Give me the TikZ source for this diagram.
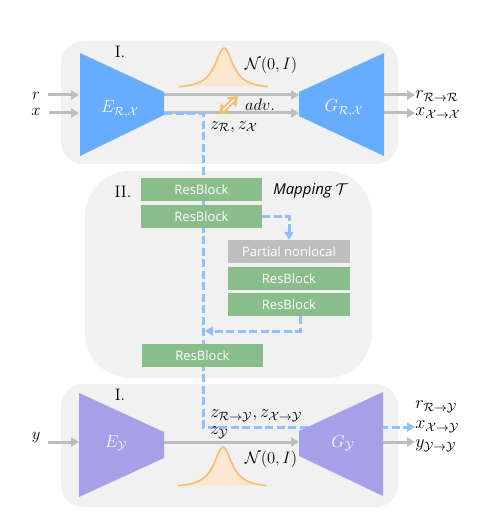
\documentclass[tikz,border=0pt]{standalone}
\usepackage{fontspec}
\setsansfont{Open Sans}
\usetikzlibrary{arrows.meta,calc}
\definecolor{panelc}{HTML}{F1F1F1}
\definecolor{bluec}{HTML}{66ACFF}
\definecolor{purplec}{HTML}{A5A0E8}
\definecolor{greenc}{HTML}{8ABD8C}
\definecolor{grayc}{HTML}{BDBDBD}
\definecolor{dashc}{HTML}{91BFF8}
\definecolor{orangec}{HTML}{F8BE70}
\definecolor{orangef}{HTML}{FCE8D0}
\tikzset{
  panel/.style={fill=panelc,draw=none,rounded corners=#1},
  block/.style={fill=#1,draw=none,minimum width=121pt,minimum height=23pt,inner sep=0pt,text=white,font=\sffamily\fontsize{13}{15}\selectfont},
  flow/.style={draw=grayc,line width=3pt,-{Triangle[length=8pt,width=9pt]}},
  latent/.style={draw=dashc,line width=3pt,dash pattern=on 8pt off 3.5pt},
  latentarrow/.style={latent,-{Triangle[length=8pt,width=9pt]}},
  lbl/.style={inner sep=0pt,text=black,scale=1.38,font=\fontsize{12}{14}\selectfont},
  sublbl/.style={inner sep=0pt,text=black,scale=1.5,font=\fontsize{12}{14}\selectfont,anchor=west},
  netlbl/.style={inner sep=0pt,text=white,scale=1.45,font=\fontsize{12}{14}\selectfont},
}
\newcommand{\gaussbump}[2]{%
  \fill[orangef] plot[domain=-45:44,samples=70,smooth] ({#1+\x},{#2-41*(1/(1+(\x/11)*(\x/11))-0.05)}) -- cycle;
  \draw[orangec,line width=1.6pt] plot[domain=-45:44,samples=70,smooth] ({#1+\x},{#2-41*(1/(1+(\x/11)*(\x/11))-0.05)});
}
\begin{document}
\begin{tikzpicture}[x=1pt,y=-1pt]
\useasboundingbox (0,0) rectangle (485,521);
% panels
\fill[panel=22pt] (61,41) rectangle (398,164);
\fill[panel=45pt] (85,171) rectangle (372,378);
\fill[panel=22pt] (61,384) rectangle (398,507);
% end points
\coordinate (rin) at (48,95); \coordinate (xin) at (49,113);
\coordinate (encR) at (79,95); \coordinate (encX) at (79,113);
\coordinate (encRo) at (164,95); \coordinate (encXo) at (164,113);
\coordinate (genRi) at (299,95); \coordinate (genXi) at (299,113);
\coordinate (genRo) at (384,95); \coordinate (genXo) at (384,113);
\coordinate (rout) at (415,95); \coordinate (xout) at (415,113);
\coordinate (yin) at (48,442); \coordinate (encY) at (79,442);
\coordinate (encYo) at (164,442); \coordinate (genYi) at (299,442);
\coordinate (genYo) at (383,442); \coordinate (yout) at (415,442);
\coordinate (latS) at (164,114); \coordinate (latC) at (203,114);
\coordinate (latD) at (203,427); \coordinate (latE) at (415,427);
% gaussians
\gaussbump{224}{87}
\gaussbump{223}{486}
% grey connectors
\draw[flow] (rin) -- (encR);
\draw[flow] (xin) -- (encX);
\draw[flow] (encRo) -- (genRi);
\draw[flow] (encXo) -- (genXi);
\draw[flow] (genRo) -- (rout);
\draw[flow] (genXo) -- (xout);
\draw[flow] (yin) -- (encY);
\draw[flow] (encYo) -- (genYi);
\draw[flow] (genYo) -- (yout);
% latent route
\draw[latentarrow] (latS) -- (latC) -- (latD) -- (latE);
% adv arrow
\coordinate (advA) at (219,114); \coordinate (advB) at (238,96);
\draw[orangec,line width=5pt,{Triangle[length=9pt,width=13pt]}-{Triangle[length=9pt,width=13pt]}] (advA) -- (advB);
\draw[white,line width=1.3pt] ($(advA)!0.2!(advB)$) -- ($(advA)!0.8!(advB)$);
% networks
\fill[bluec] (80,53) -- (164,92) -- (164,115) -- (80,156) -- cycle;
\fill[bluec] (384,53) -- (299,92) -- (299,116) -- (384,156) -- cycle;
\fill[purplec] (79,393) -- (164,432) -- (164,458) -- (79,497) -- cycle;
\fill[purplec] (383,392) -- (299,431) -- (299,456) -- (383,496) -- cycle;
\node[netlbl] (elabel) at (120,109) {$E_{\mathcal{R},\mathcal{X}}$};
\node[netlbl] (glabel) at (344,108) {$G_{\mathcal{R},\mathcal{X}}$};
\node[netlbl] (eylabel) at (116,443) {$E_{\mathcal{Y}}$};
\node[netlbl] (gylabel) at (343,443) {$G_{\mathcal{Y}}$};
% mapping blocks
\node[block=greenc] (rb1) at (201.5,189.5) {ResBlock};
\node[block=greenc] (rb2) at (201.5,216.5) {ResBlock};
\node[block=grayc,minimum width=122pt] (pn) at (289,251.5) {Partial nonlocal};
\node[block=greenc,minimum width=122pt] (rb3) at (289,278.5) {ResBlock};
\node[block=greenc,minimum width=122pt] (rb4) at (289,304.5) {ResBlock};
\node[block=greenc] (rb5) at (202.5,355.5) {ResBlock};
\coordinate (joinA) at (300,331); \coordinate (joinB) at (205,331);
\draw[latentarrow] (rb2.east) -- (pn.north |- rb2.east) -- (pn.north);
\draw[latentarrow] (rb4.south -| joinA) -- (joinA) -- (joinB);
% labels
\node[lbl] (lr) at (36,96) {$r$};
\node[lbl] (lx) at (36,112) {$x$};
\node[sublbl] (lrr) at (415,96) {$r_{\mathcal{R}\to\mathcal{R}}$};
\node[sublbl] (lxx) at (415,113) {$x_{\mathcal{X}\to\mathcal{X}}$};
\node[lbl] (one) at (120,52) {I.};
\node[lbl] (n1) at (271,65) {$\mathcal{N}(0,I)$};
\node[lbl] (adv) at (260,105) {$adv.$};
\node[sublbl] (zz) at (210,127) {$z_{\mathcal{R}},z_{\mathcal{X}}$};
\node[lbl] (two) at (123,192) {II.};
\node[inner sep=0pt,anchor=west,scale=1.3,font=\sffamily\itshape\fontsize{11.5}{13}\selectfont] (map) at (273,191) {Mapping $\mathcal{T}$};
\node[lbl] (one2) at (120,395) {I.};
\node[lbl] (ly) at (36,438) {$y$};
\node[sublbl] (zmap) at (210,416) {$z_{\mathcal{R}\to\mathcal{Y}},z_{\mathcal{X}\to\mathcal{Y}}$};
\node[sublbl] (zy) at (210,433) {$z_{\mathcal{Y}}$};
\node[lbl] (n2) at (271,459) {$\mathcal{N}(0,I)$};
\node[sublbl] (ryy) at (415,407) {$r_{\mathcal{R}\to\mathcal{Y}}$};
\node[sublbl] (xyy) at (415,427) {$x_{\mathcal{X}\to\mathcal{Y}}$};
\node[sublbl] (yyy) at (415,446) {$y_{\mathcal{Y}\to\mathcal{Y}}$};
\end{tikzpicture}
\end{document}
